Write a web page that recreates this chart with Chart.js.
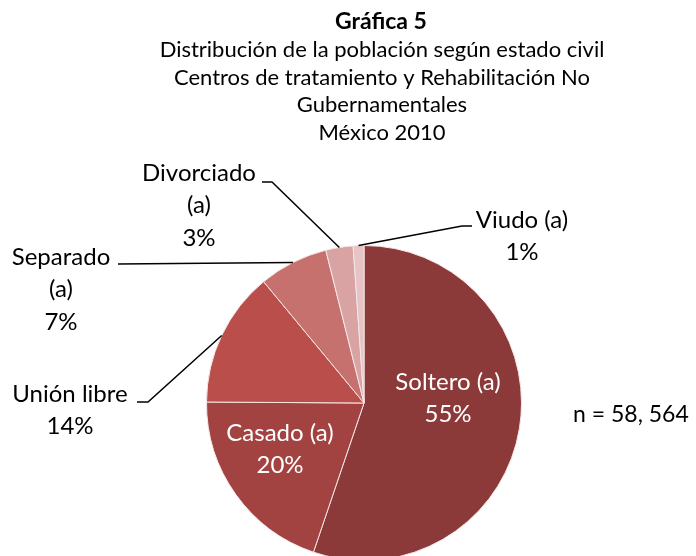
<!DOCTYPE html>
<html>
<head>
<meta charset="utf-8">
<script src="https://cdn.jsdelivr.net/npm/chart.js@4"></script>
<style>
  html, body { margin: 0; padding: 0; overflow: hidden; background: #fff; }
  #wrap { width: 696px; height: 562px; }
</style>
</head>
<body>
<div id="wrap"><canvas id="myChart" width="696" height="562"></canvas></div>
<script>
// datos de la grafica
const categorias = ['Soltero (a)', 'Casado (a)', 'Unión libre', 'Separado (a)', 'Divorciado (a)', 'Viudo (a)'];
const porcentajes = [55.2, 19.9, 13.9, 7.1, 2.8, 1.1];
const colores = ['#8c3a39', '#a34341', '#b94e4b', '#c7716f', '#d9a3a3', '#e6c3c5'];
const titulo = 'Gráfica 5';
const subtitulo = [
  'Distribución de la población según estado civil',
  'Centros de tratamiento y Rehabilitación No',
  'Gubernamentales',
  'México 2010'
];
const nota = 'n = 58, 564';

// donde va cada etiqueta (texto) y su linea guia
var etiquetas = [
  { x: 448, y: 382, partir: false, blanco: true },
  { x: 280, y: 433, partir: false, blanco: true },
  { x: 70,  y: 394, partir: false, guia: [[137, 402], [148, 402]] },
  { x: 61,  y: 257, partir: true,  guia: [[118, 264]] },
  { x: 199, y: 173, partir: true,  guia: [[262, 182], [272, 182]] },
  { x: 522, y: 220, partir: false, guia: [[472, 226], [462, 226]] }
];

var FUENTE = 'Lato, "Open Sans", sans-serif';

var textos = {
  id: 'textos',
  afterDatasetsDraw: function(chart) {
    var ctx = chart.ctx;
    var arcs = chart.getDatasetMeta(0).data;
    ctx.save();
    ctx.textAlign = 'center';
    ctx.textBaseline = 'middle';

    // titulo
    ctx.fillStyle = '#000';
    ctx.font = 'bold 23px ' + FUENTE;
    ctx.fillText(titulo, 381, 22);
    ctx.font = '22px ' + FUENTE;
    for (var i = 0; i < subtitulo.length; i++) {
      ctx.fillText(subtitulo[i], 382, 50 + i * 27.7);
    }

    // etiquetas
    ctx.font = '24px ' + FUENTE;
    for (var j = 0; j < etiquetas.length; j++) {
      var e = etiquetas[j];
      var lineas;
      if (e.partir) {
        var k = categorias[j].indexOf(' (');
        lineas = [categorias[j].slice(0, k), categorias[j].slice(k + 1)];
      } else {
        lineas = [categorias[j]];
      }
      lineas.push(Math.round(porcentajes[j]) + '%');
      ctx.fillStyle = e.blanco ? '#fff' : '#000';
      for (var l = 0; l < lineas.length; l++) {
        ctx.fillText(lineas[l], e.x, e.y + l * 32.5);
      }

      if (e.guia) {
        var a = arcs[j].getProps(['x', 'y', 'startAngle', 'endAngle', 'outerRadius'], true);
        var mid = (a.startAngle + a.endAngle) / 2;
        var px = a.x + Math.cos(mid) * a.outerRadius;
        var py = a.y + Math.sin(mid) * a.outerRadius;
        ctx.beginPath();
        ctx.moveTo(e.guia[0][0], e.guia[0][1]);
        for (var g = 1; g < e.guia.length; g++) ctx.lineTo(e.guia[g][0], e.guia[g][1]);
        ctx.lineTo(px, py);
        ctx.strokeStyle = '#000';
        ctx.lineWidth = 1.5;
        ctx.stroke();
      }
    }

    // n
    ctx.fillStyle = '#000';
    ctx.textAlign = 'left';
    ctx.font = '23px ' + FUENTE;
    ctx.fillText(nota, 573, 415);
    ctx.restore();
  }
};

var ctx = document.getElementById('myChart').getContext('2d');
window.myChart = new Chart(ctx, {
  type: 'pie',
  data: {
    labels: categorias,
    datasets: [{
      data: porcentajes,
      backgroundColor: colores,
      borderColor: '#f4e6e6',
      borderWidth: 1
    }]
  },
  options: {
    responsive: false,
    animation: false,
    layout: { padding: { left: 206, right: 174, top: 245, bottom: 1 } },
    plugins: {
      legend: { display: false },
      tooltip: { enabled: false }
    }
  },
  plugins: [textos]
});
</script>
</body>
</html>
